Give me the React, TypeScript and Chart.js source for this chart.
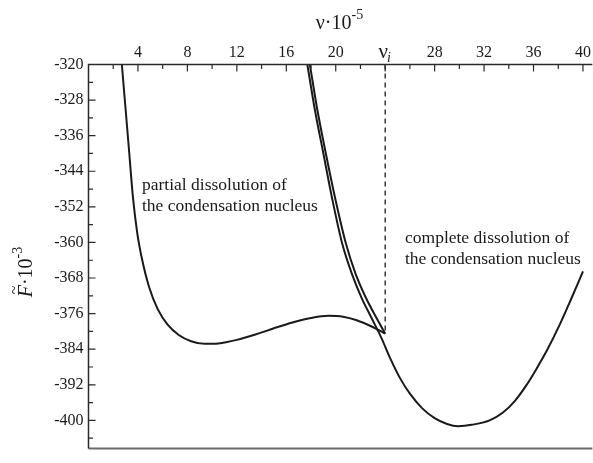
import React, { useEffect, useRef } from "react";
import { Chart, registerables } from "chart.js";

Chart.register(...registerables);

// ---- data ----
const xTickValues = [4, 8, 12, 16, 20, 24, 28, 32, 36, 40];
const xTickLabels = ["4", "8", "12", "16", "20", "", "28", "32", "36", "40"];
const xMinorTicks = [2, 6, 10, 14, 18, 22, 26, 30, 34, 38];
const yTickValues = [-320, -328, -336, -344, -352, -360, -368, -376, -384, -392, -400];
const yMinorTicks = [-324, -332, -340, -348, -356, -364, -372, -380, -388, -396, -404];

// partial dissolution branch
const partialNu = [2.65, 2.7, 3.0, 3.3, 3.6, 3.95, 4.35, 4.9, 5.6, 6.4, 7.3, 8.3, 9.4, 10.5, 12.0, 13.5, 15.0, 16.5, 18.0, 19.4, 20.6, 21.7, 22.9, 24.0];
const partialF = [-318, -320, -330, -340, -350, -358, -364, -370, -375, -378.5, -380.8, -382.2, -382.8, -382.7, -381.9, -380.7, -379.3, -378.0, -377.0, -376.5, -376.7, -377.5, -378.9, -380.5];

// branch from the top ending at nu_i
const branchNu = [17.8, 17.9, 18.5, 19.2, 19.95, 20.8, 21.6, 22.45, 23.3, 24.0];
const branchF = [-318.5, -320, -330, -340, -350, -360, -367, -372.5, -377, -380.5];

// complete dissolution branch
const completeNu = [17.6, 17.7, 18.3, 19.0, 19.7, 20.5, 21.3, 22.1, 22.9, 23.7, 24.4, 25.2, 26.0, 27.0, 28.0, 29.0, 29.9, 31.0, 32.45, 33.5, 34.5, 35.4, 36.2, 37.1, 38.1, 39.0, 40.0];
const completeF = [-318.5, -320, -330, -340, -350, -360, -367, -372.5, -377, -381.5, -386, -390.5, -394, -397.3, -399.5, -400.8, -401.3, -401.0, -400.0, -398.3, -395.6, -392.2, -388.6, -384.2, -378.6, -373.0, -366.5];

const nuI = 24;
const dashedF = [-320, -380.5];

const xMin = 0;
const xMax = 40.6;
const yMin = -406.3;
const yMax = -320;

const toPts = (xs: number[], ys: number[]) => xs.map((x, i) => ({ x, y: ys[i] }));

const SERIF = "'Liberation Serif', 'Times New Roman', serif";
const INK = "#1a1a1a";

const decorPlugin = {
  id: "decor",
  afterDatasetsDraw(chart: any) {
    const { ctx, chartArea } = chart;
    const { left, right, top, bottom } = chartArea;
    const xs = chart.scales.x;
    const ys = chart.scales.y;
    ctx.save();
    // bottom line
    ctx.strokeStyle = "#6a6a6a";
    ctx.lineWidth = 2;
    ctx.beginPath();
    ctx.moveTo(left, bottom);
    ctx.lineTo(right + 2, bottom);
    ctx.stroke();
    // left & top axis
    ctx.strokeStyle = "#2a2a2a";
    ctx.lineWidth = 1.5;
    ctx.beginPath();
    ctx.moveTo(left, bottom);
    ctx.lineTo(left, top);
    ctx.lineTo(right + 2, top);
    ctx.stroke();
    // ticks (inward)
    ctx.lineWidth = 1.2;
    ctx.beginPath();
    xTickValues.forEach((v) => {
      const p = xs.getPixelForValue(v);
      ctx.moveTo(p, top);
      ctx.lineTo(p, top + 7);
    });
    xMinorTicks.forEach((v) => {
      const p = xs.getPixelForValue(v);
      ctx.moveTo(p, top);
      ctx.lineTo(p, top + 4.5);
    });
    yTickValues.forEach((v) => {
      const p = ys.getPixelForValue(v);
      ctx.moveTo(left, p);
      ctx.lineTo(left + 7, p);
    });
    yMinorTicks.forEach((v) => {
      const p = ys.getPixelForValue(v);
      ctx.moveTo(left, p);
      ctx.lineTo(left + 4.5, p);
    });
    ctx.stroke();
    ctx.restore();
  },
  afterDraw(chart: any) {
    const { ctx, chartArea } = chart;
    const { left, right } = chartArea;
    const xs = chart.scales.x;
    ctx.save();
    ctx.fillStyle = INK;
    ctx.textBaseline = "alphabetic";
    ctx.textAlign = "left";

    // nu_i tick label
    const pI = xs.getPixelForValue(nuI);
    ctx.font = `21px ${SERIF}`;
    const wNu = ctx.measureText("ν").width;
    ctx.fillText("ν", pI - wNu / 2 - 2, 58);
    ctx.font = `italic 14px ${SERIF}`;
    ctx.fillText("i", pI + wNu / 2 - 3, 62);

    // x title: ν·10^-5
    ctx.font = `20px ${SERIF}`;
    const main = "ν·10";
    const wMain = ctx.measureText(main).width;
    ctx.font = `14px ${SERIF}`;
    const wSup = ctx.measureText("-5").width;
    const cx = (left + right) / 2;
    const x0 = cx - (wMain + wSup) / 2;
    ctx.font = `20px ${SERIF}`;
    ctx.fillText(main, x0, 29);
    ctx.font = `14px ${SERIF}`;
    ctx.fillText("-5", x0 + wMain, 19);

    // y title: F~·10^-3 (rotated)
    ctx.save();
    ctx.translate(32, 272);
    ctx.rotate(-Math.PI / 2);
    ctx.font = `italic 20px ${SERIF}`;
    const wF = ctx.measureText("F").width;
    ctx.font = `20px ${SERIF}`;
    const wRest = ctx.measureText("·10").width;
    ctx.font = `14px ${SERIF}`;
    const wSup3 = ctx.measureText("-3").width;
    const tx0 = -(wF + wRest + wSup3) / 2;
    ctx.font = `italic 20px ${SERIF}`;
    ctx.fillText("F", tx0, 0);
    ctx.font = `16px ${SERIF}`;
    ctx.fillText("~", tx0 + 3, -13);
    ctx.font = `20px ${SERIF}`;
    ctx.fillText("·10", tx0 + wF, 0);
    ctx.font = `14px ${SERIF}`;
    ctx.fillText("-3", tx0 + wF + wRest, -10);
    ctx.restore();

    // annotations
    ctx.font = `17.5px ${SERIF}`;
    ctx.fillText("partial dissolution of", 142, 190);
    ctx.fillText("the condensation nucleus", 142, 211);
    ctx.fillText("complete dissolution of", 405, 243);
    ctx.fillText("the condensation nucleus", 405, 264);
    ctx.restore();
  },
};

export default function App() {
  const ref = useRef<HTMLCanvasElement | null>(null);
  useEffect(() => {
    if (!ref.current) return;
    const lineDs = (data: any[]) => ({
      data,
      borderColor: INK,
      borderWidth: 2,
      pointRadius: 0,
      fill: false,
      cubicInterpolationMode: "monotone" as const,
    });
    const chart = new Chart(ref.current, {
      type: "line",
      data: {
        datasets: [
          lineDs(toPts(partialNu, partialF)),
          lineDs(toPts(branchNu, branchF)),
          lineDs(toPts(completeNu, completeF)),
          {
            data: toPts([nuI, nuI], dashedF),
            borderColor: INK,
            borderWidth: 1.3,
            borderDash: [5, 4],
            pointRadius: 0,
            fill: false,
          },
        ],
      },
      options: {
        animation: false,
        responsive: false,
        maintainAspectRatio: false,
        layout: { padding: { left: 0, top: 0, right: 2, bottom: 1.5 } },
        plugins: { legend: { display: false }, tooltip: { enabled: false } },
        scales: {
          x: {
            type: "linear",
            position: "top",
            min: xMin,
            max: xMax,
            afterBuildTicks: (axis: any) => {
              axis.ticks = xTickValues.map((v) => ({ value: v }));
            },
            afterFit: (axis: any) => {
              axis.height = 64.5;
            },
            ticks: {
              autoSkip: false,
              maxRotation: 0,
              padding: 2,
              color: INK,
              font: { family: SERIF, size: 16 },
              callback: (v: any) => {
                const i = xTickValues.indexOf(Number(v));
                return i >= 0 ? xTickLabels[i] : "";
              },
            },
            grid: { display: true, drawOnChartArea: false, drawTicks: false, color: "rgba(0,0,0,0)" },
            border: { display: false },
          },
          y: {
            type: "linear",
            min: yMin,
            max: yMax,
            afterBuildTicks: (axis: any) => {
              axis.ticks = yTickValues.map((v) => ({ value: v }));
            },
            afterFit: (axis: any) => {
              axis.width = 88.5;
            },
            ticks: {
              autoSkip: false,
              padding: 5,
              color: INK,
              font: { family: SERIF, size: 16 },
              callback: (v: any) => String(v),
            },
            grid: { display: true, drawOnChartArea: false, drawTicks: false, color: "rgba(0,0,0,0)" },
            border: { display: false },
          },
        },
      },
      plugins: [decorPlugin],
    });
    return () => chart.destroy();
  }, []);
  return (
    <div style={{ position: "absolute", left: 0, top: 0, width: 593, height: 463, background: "#fff" }}>
      <canvas ref={ref} width={593} height={463} style={{ width: 593, height: 463 }} />
    </div>
  );
}
